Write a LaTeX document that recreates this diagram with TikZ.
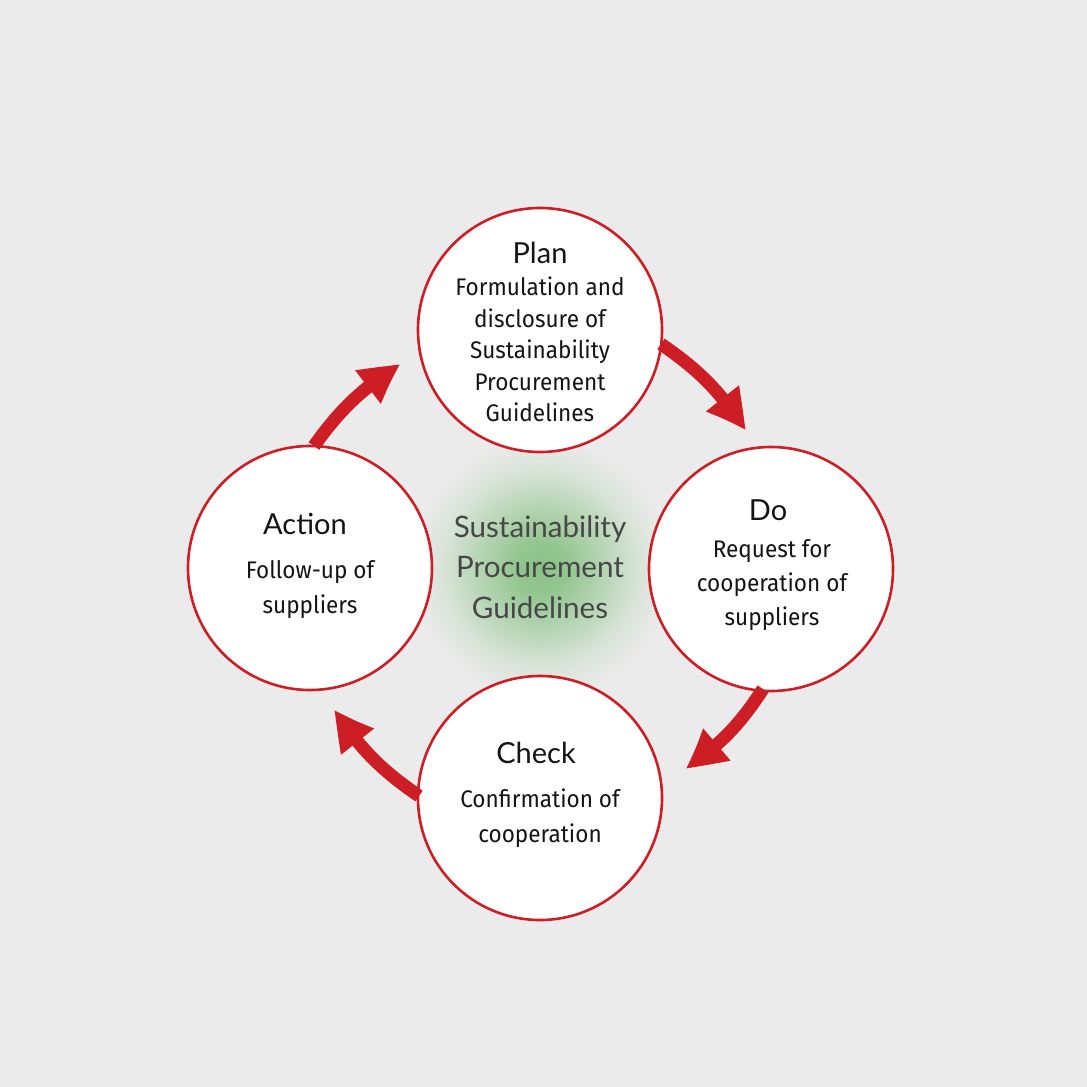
\documentclass[tikz,border=0pt]{standalone}
\usepackage{fontspec}
\setmainfont{Fira Sans}[FakeStretch=0.94]
\newfontfamily\headf{Lato}
\newfontfamily\centf{Lato}
\usetikzlibrary{arrows.meta,bending}
\definecolor{bg}{RGB}{235,235,235}
\definecolor{redc}{RGB}{204,30,36}
\definecolor{glowc}{RGB}{138,194,134}
\definecolor{txt}{RGB}{20,20,20}
\pgfdeclareradialshading{glow}{\pgfpoint{0bp}{0bp}}{%
  color(0bp)=(glowc); color(5bp)=(glowc!90!bg); color(12bp)=(glowc!55!bg);
  color(19bp)=(glowc!18!bg); color(25bp)=(bg); color(50bp)=(bg)}
\tikzset{
  stage/.style={circle, draw=redc, line width=1.3pt, fill=white, minimum size=122pt, inner sep=0pt},
  head/.style={anchor=base, inner sep=0pt, text=txt, font=\headf\fontsize{14.5pt}{17pt}\selectfont},
  body/.style={anchor=base, inner sep=0pt, text=txt, font=\fontsize{12pt}{14pt}\selectfont},
  ctext/.style={anchor=base, inner sep=0pt, text=black!72, font=\centf\fontsize{14.8pt}{18pt}\selectfont},
  cyc/.style={draw=redc, line width=6.5pt, -{Triangle[length=21pt, width=19pt, bend]}}
}
\begin{document}
\begin{tikzpicture}[x=0.5pt, y=-0.5pt]
\fill[bg] (0,0) rectangle (1087,1087);
\useasboundingbox (0,0) rectangle (1087,1087);
\coordinate (o) at (541,568);
\shade[shading=glow] (o) circle (130);
% circles
\node[stage] (plan) at (540,330) {};
\node[stage] (do) at (771,569) {};
\node[stage] (check) at (540,798) {};
\node[stage] (action) at (310,568) {};
% arrow end points
\coordinate (pd1) at (661,344);
\coordinate (pd2) at (746,431);
\coordinate (dc1) at (763,689);
\coordinate (dc2) at (685,769);
\coordinate (ca1) at (419,796);
\coordinate (ca2) at (334,709);
\coordinate (ap1) at (314,446);
\coordinate (ap2) at (401,364);
\draw[cyc] (pd1) to[bend left=11] (pd2);
\draw[cyc] (dc1) to[bend left=11] (dc2);
\draw[cyc] (ca1) to[bend left=11] (ca2);
\draw[cyc] (ap1) to[bend left=11] (ap2);
% center text
\node[ctext] (c1) at (540,537) {Sustainability};
\node[ctext] (c2) at (540,577) {Procurement};
\node[ctext] (c3) at (540,618) {Guidelines};
% plan
\node[head] (p0) at (540,263) {Plan};
\node[body] (p1) at (540,295) {Formulation and};
\node[body] (p2) at (540,327) {disclosure of};
\node[body] (p3) at (540,358) {Sustainability};
\node[body] (p4) at (540,390) {Procurement};
\node[body] (p5) at (540,421) {Guidelines};
% do
\node[head] (d0) at (768,520) {Do};
\node[body] (d1) at (772,557) {Request for};
\node[body] (d2) at (772,591) {cooperation of};
\node[body] (d3) at (772,625) {suppliers};
% check
\node[head] (k0) at (536,763) {Check};
\node[body] (k1) at (540,807) {Confirmation of};
\node[body] (k2) at (540,842) {cooperation};
% action
\node[head] (a0) at (305,534) {Action};
\node[body] (a1) at (310,578) {Follow-up of};
\node[body] (a2) at (310,613) {suppliers};
\end{tikzpicture}
\end{document}
